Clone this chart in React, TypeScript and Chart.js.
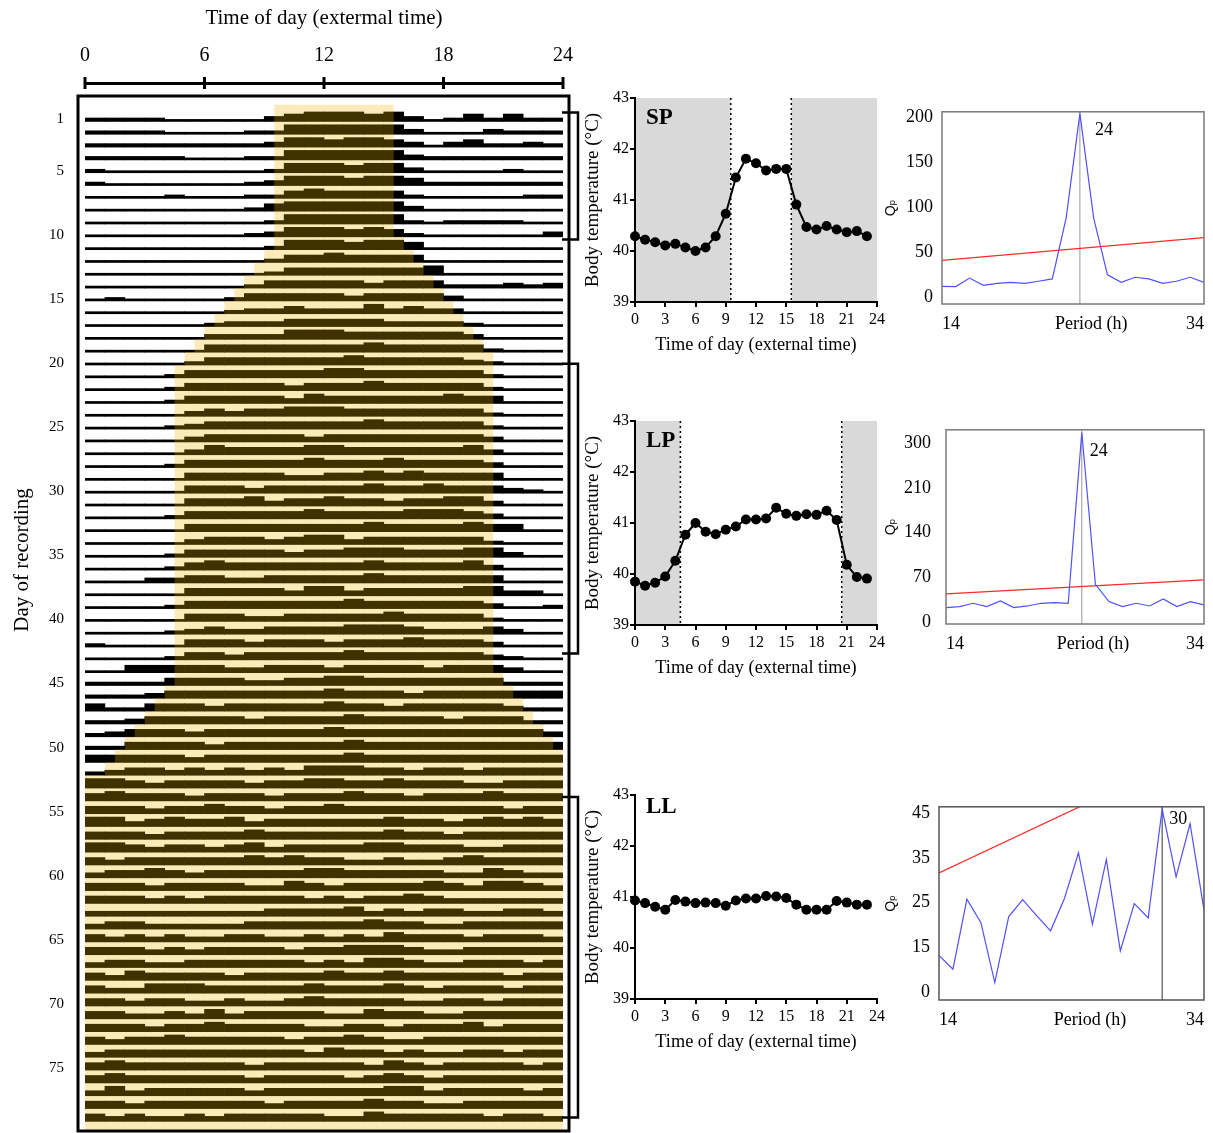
import React, { useEffect, useRef } from 'react';
import { Chart, registerables } from 'chart.js';

Chart.register(...registerables);
Chart.defaults.color = '#000';

const SERIF = "'Liberation Serif', 'Times New Roman', Times, serif";
const SANS = "'Liberation Sans', 'DejaVu Sans', Arial, sans-serif";

// ================= Actogram data =================
const hourTicks = [0, 6, 12, 18, 24];
const dayTicks = [1, 5, 10, 15, 20, 25, 30, 35, 40, 45, 50, 55, 60, 65, 70, 75];

// activity level per hourly bin (0 = lowest ... 4 = highest), one string per day of recording
const activityRows = [
  '111100000234443420131311',
  '111100001144444420002111',
  '111111111244344320231121',
  '111110001144444421111111',
  '100000000144434420000100',
  '100000001244434431111111',
  '000010001134333310000011',
  '000000001344444420000000',
  '000000000144444410111100',
  '000000001244434310000002',
  '000000000144434430000000',
  '000000000133433330000000',
  '000000000133333334000000',
  '000000001333332333111212',
  '010000013333323333200000',
  '000000012232224232200000',
  '000000122233333222210000',
  '000000222244433333320000',
  '000000333333334333331000',
  '000001333333343333321000',
  '000013333333443333331000',
  '000013333323334333331000',
  '000013333324333333433000',
  '000002323344433333331000',
  '000012333333334333331000',
  '000002333332333333332000',
  '000002433334433333342000',
  '000013333334333433332000',
  '000003333322334343333000',
  '000003332333334334333210',
  '000003334233433233442000',
  '000013333334333344432000',
  '000003333333334333343300',
  '000002333234423333331000',
  '000013333323344433344200',
  '000013433333334333342000',
  '000223322333334333333000',
  '000003333324423333344220',
  '000013333333343333332001',
  '000003332233333433331000',
  '000012322333344432223200',
  '100003332333233343332000',
  '000013323333343333332100',
  '003333322333233332333200',
  '111133332233443333333111',
  '111233333333433323333333',
  '311333233333433233333211',
  '112333332333343333233311',
  '123332333333433333333332',
  '113333233333343333333333',
  '333332333333343333333333',
  '123323232324443323323333',
  '443233332334433433322333',
  '343332333233343323334333',
  '333233433233433333333233',
  '442343342333333433234343',
  '333233334333333433233333',
  '443233234233334433322333',
  '323333334343322322343333',
  '233432333334433333224322',
  '333233332243233334324432',
  '333232333332323343222222',
  '222222222333342323322332',
  '233222223333334332233333',
  '323232233223232433323332',
  '333232333323344432233333',
  '233223333332324432233323',
  '324333323333433433333233',
  '322444333334333432333233',
  '332332232234333322332333',
  '332232423333224332233333',
  '333233433332233233342333',
  '323343333323343223333333',
  '233333333332433232233233',
  '343333332333332432333323',
  '343333332333323432333333',
  '242333332333333442333323',
  '332333333233334332233333',
  '323223233333224333332332',
];

// lights-on / lights-off time (h) for each day of recording
const lightOn = [
  9.5, 9.5, 9.5, 9.5, 9.5, 9.5, 9.5, 9.5, 9.5, 9.5,
  9.5, 9, 8.5, 8, 7.5, 7, 6.5, 6, 5.5, 5,
  4.5, 4.5, 4.5, 4.5, 4.5, 4.5, 4.5, 4.5, 4.5, 4.5,
  4.5, 4.5, 4.5, 4.5, 4.5, 4.5, 4.5, 4.5, 4.5, 4.5,
  4.5, 4.5, 4.5, 4.5, 4.5, 4, 3.5, 3, 2.5, 2,
  1.5, 1, 0, 0, 0, 0, 0, 0, 0, 0,
  0, 0, 0, 0, 0, 0, 0, 0, 0, 0,
  0, 0, 0, 0, 0, 0, 0, 0, 0,
];
const lightOff = [
  15.5, 15.5, 15.5, 15.5, 15.5, 15.5, 15.5, 15.5, 15.5, 15.5,
  16, 16.5, 17, 17.5, 18, 18.5, 19, 19.5, 20, 20.5,
  20.5, 20.5, 20.5, 20.5, 20.5, 20.5, 20.5, 20.5, 20.5, 20.5,
  20.5, 20.5, 20.5, 20.5, 20.5, 20.5, 20.5, 20.5, 20.5, 20.5,
  20.5, 20.5, 20.5, 20.5, 21, 21.5, 22, 22.5, 23, 23.5,
  24, 24, 24, 24, 24, 24, 24, 24, 24, 24,
  24, 24, 24, 24, 24, 24, 24, 24, 24, 24,
  24, 24, 24, 24, 24, 24, 24, 24, 24,
];
// day ranges marked by brackets (SP, LP, LL)
const bracketDays = [
  [0.3, 10.2],
  [19.9, 42.5],
  [53.7, 78.7],
];

// ================= Body temperature data =================
const hours = [0, 1, 2, 3, 4, 5, 6, 7, 8, 9, 10, 11, 12, 13, 14, 15, 16, 17, 18, 19, 20, 21, 22, 23];
const spTemp = [40.29, 40.22, 40.17, 40.11, 40.14, 40.07, 40.0, 40.07, 40.29, 40.73, 41.44, 41.81, 41.72, 41.58, 41.61, 41.61, 40.91, 40.47, 40.42, 40.49, 40.42, 40.37, 40.39, 40.29];
const lpTemp = [39.85, 39.77, 39.83, 39.95, 40.26, 40.77, 41.0, 40.83, 40.78, 40.87, 40.93, 41.07, 41.07, 41.09, 41.3, 41.18, 41.14, 41.17, 41.16, 41.24, 41.06, 40.18, 39.94, 39.91];
const llTemp = [40.93, 40.88, 40.81, 40.75, 40.94, 40.91, 40.88, 40.89, 40.88, 40.83, 40.93, 40.97, 40.97, 41.02, 41.01, 40.98, 40.85, 40.75, 40.75, 40.75, 40.92, 40.89, 40.85, 40.85];
const spDark = [[0, 9.5], [15.5, 24]];
const lpDark = [[0, 4.5], [20.5, 24]];
const llDark: number[][] = [];

// ================= Periodogram data =================
const periods = [14, 15, 16, 17, 18, 19, 20, 21, 22, 23, 24, 25, 26, 27, 28, 29, 30, 31, 32, 33];
const spQp = [12.2, 12.0, 21.4, 13.3, 15.6, 16.7, 15.6, 17.9, 20.5, 87.7, 203.5, 87.7, 25.0, 16.7, 22.3, 20.5, 15.6, 17.9, 22.3, 16.7];
const lpQp = [22.9, 24.5, 29.7, 24.5, 33.4, 22.9, 25.5, 29.7, 30.8, 29.7, 296.7, 59.4, 32.3, 24.5, 29.7, 25.5, 36.5, 24.5, 32.3, 27.1];
const llQp = [13.2, 10.1, 25.8, 20.6, 7.1, 21.9, 25.7, 22.1, 18.7, 26.0, 36.2, 20.2, 34.7, 14.2, 24.8, 21.6, 46.0, 30.8, 42.7, 23.4];
const thresholdPeriods = [14, 33];
const spThreshold = [40.9, 66.3];
const lpThreshold = [44.3, 66.2];
const llThreshold = [31.7, 59.6];
const periodTickValues = [14, 33];
const periodTickLabels = ['14', '34'];
const spQpTicks = [0, 50, 100, 150, 200];
const spQpLabels = ['0', '50', '100', '150', '200'];
const lpQpTicks = [0, 70, 140, 210, 280];
const lpQpLabels = ['0', '70', '140', '210', '300'];
const llQpTicks = [5, 15, 25, 35, 45];
const llQpLabels = ['0', '15', '25', '35', '45'];

// ================= Helpers =================
function ChartCanvas({ left, top, width, height, make }: any) {
  const ref = useRef<HTMLCanvasElement | null>(null);
  useEffect(() => {
    const chart = new Chart(ref.current as HTMLCanvasElement, make());
    return () => chart.destroy();
  }, []);
  return (
    <canvas
      ref={ref}
      width={width}
      height={height}
      style={{ position: 'absolute', left, top, width, height }}
    />
  );
}

// ================= Actogram =================
function actogramConfig(): any {
  // bar height (in day-row units) for each activity level
  const LEVEL_H = [0.16, 0.27, 0.39, 0.58, 0.74];
  const bars: any[] = [];
  activityRows.forEach((row, i) => {
    const day = i + 1;
    for (let h = 0; h < 24; h++) {
      const lvl = Number(row[h] ?? '0');
      bars.push({ x: h + 0.5, y: [day, day - LEVEL_H[lvl]] });
    }
  });

  const actoPlugin = {
    id: 'acto',
    afterDatasetsDraw(chart: any) {
      const { ctx, scales } = chart;
      const x = scales.x;
      const y = scales.y;
      ctx.save();
      ctx.beginPath();
      for (let i = 0; i < lightOn.length; i++) {
        const d = i + 1;
        const t = y.getPixelForValue(d === 1 ? d - 1.3 : d - 1);
        const b = y.getPixelForValue(d === lightOn.length ? y.max : d);
        const l = x.getPixelForValue(lightOn[i]);
        const r = x.getPixelForValue(lightOff[i]);
        ctx.rect(l, t, r - l, b - t);
      }
      ctx.fillStyle = 'rgba(245,180,0,0.27)';
      ctx.fill();
      ctx.restore();
    },
    afterDraw(chart: any) {
      const { ctx, chartArea: ca, scales } = chart;
      const x = scales.x;
      const y = scales.y;
      ctx.save();
      // frame
      ctx.strokeStyle = '#000';
      ctx.lineWidth = 3;
      ctx.strokeRect(ca.left - 7, ca.top + 13, ca.right + 6 - (ca.left - 7), ca.bottom - (ca.top + 13));
      // top axis tick marks
      for (const v of hourTicks) {
        const px = x.getPixelForValue(v);
        ctx.beginPath();
        ctx.moveTo(px, ca.top - 6);
        ctx.lineTo(px, ca.top + 6);
        ctx.stroke();
      }
      // brackets
      ctx.lineWidth = 2.5;
      const xr = ca.right + 15;
      for (const [a, b] of bracketDays) {
        const ya = y.getPixelForValue(a);
        const yb = y.getPixelForValue(b);
        ctx.beginPath();
        ctx.moveTo(ca.right - 1, ya);
        ctx.lineTo(xr, ya);
        ctx.lineTo(xr, yb);
        ctx.lineTo(ca.right - 1, yb);
        ctx.stroke();
      }
      // y title
      ctx.translate(22, 560);
      ctx.rotate(-Math.PI / 2);
      ctx.fillStyle = '#000';
      ctx.font = `21px ${SERIF}`;
      ctx.textAlign = 'center';
      ctx.textBaseline = 'middle';
      ctx.fillText('Day of recording', 0, 0);
      ctx.restore();
    },
  };

  return {
    type: 'bar',
    data: {
      datasets: [
        {
          data: bars,
          backgroundColor: '#000',
          borderWidth: 0,
          barPercentage: 1,
          categoryPercentage: 1,
        },
      ],
    },
    options: {
      animation: false,
      responsive: false,
      events: [],
      layout: { autoPadding: false, padding: { left: 0, right: 37, top: 0, bottom: 2 } },
      plugins: { legend: { display: false }, tooltip: { enabled: false } },
      scales: {
        x: {
          type: 'linear',
          position: 'top',
          min: 0,
          max: 24,
          offset: false,
          afterBuildTicks: (s: any) => {
            s.ticks = hourTicks.map((v) => ({ value: v }));
          },
          afterFit: (s: any) => {
            s.height = 83;
          },
          grid: { display: false, drawTicks: false, offset: false },
          border: { display: true, color: '#000', width: 3 },
          ticks: { font: { family: SERIF, size: 20 }, color: '#000', padding: 15, maxRotation: 0, autoSkip: false },
          title: {
            display: true,
            text: 'Time of day (extermal time)',
            font: { family: SERIF, size: 21 },
            color: '#000',
            padding: { top: 6, bottom: 0 },
          },
        },
        y: {
          type: 'linear',
          reverse: true,
          min: -2,
          max: 79.75,
          afterBuildTicks: (s: any) => {
            s.ticks = dayTicks.map((v) => ({ value: v }));
          },
          afterFit: (s: any) => {
            s.width = 85;
          },
          grid: { display: false, drawTicks: false },
          border: { display: false },
          ticks: { font: { family: SERIF, size: 15 }, color: '#000', padding: 21, autoSkip: false, labelOffset: -2 },
        },
      },
    },
    plugins: [actoPlugin],
  };
}

// ================= Temperature charts =================
function tempConfig(temps: number[], dark: number[][], label: string, labelDy: number): any {
  const plugin = {
    id: 'tempDeco',
    beforeDraw(chart: any) {
      const { ctx, chartArea: ca, scales } = chart;
      const x = scales.x;
      ctx.save();
      ctx.fillStyle = '#d9d9d9';
      for (const [a, b] of dark) {
        const l = x.getPixelForValue(a);
        const r = x.getPixelForValue(b);
        ctx.fillRect(l, ca.top, r - l, ca.bottom - ca.top);
      }
      ctx.strokeStyle = '#000';
      ctx.lineWidth = 1.5;
      ctx.setLineDash([2, 3]);
      for (const [a, b] of dark) {
        for (const v of [a, b]) {
          if (v <= 0 || v >= 24) continue;
          const px = x.getPixelForValue(v);
          ctx.beginPath();
          ctx.moveTo(px, ca.top);
          ctx.lineTo(px, ca.bottom);
          ctx.stroke();
        }
      }
      ctx.restore();
    },
    afterDraw(chart: any) {
      const { ctx, chartArea: ca } = chart;
      ctx.save();
      ctx.fillStyle = '#000';
      ctx.font = `bold 23px ${SERIF}`;
      ctx.textAlign = 'left';
      ctx.textBaseline = 'middle';
      ctx.fillText(label, ca.left + 11, ca.top + labelDy);
      ctx.restore();
    },
  };
  const axisCommon = {
    grid: { display: true, drawOnChartArea: false, drawTicks: true, tickLength: 5, color: '#000', lineWidth: 2 },
    border: { display: true, color: '#000', width: 2 },
  };
  return {
    type: 'line',
    data: {
      datasets: [
        {
          data: hours.map((h, i) => ({ x: h, y: temps[i] })),
          borderColor: '#000',
          borderWidth: 2,
          pointRadius: 5,
          pointBackgroundColor: '#000',
          pointBorderWidth: 0,
          tension: 0,
          clip: false,
        },
      ],
    },
    options: {
      animation: false,
      responsive: false,
      events: [],
      layout: { autoPadding: false, padding: { left: 0, right: 13, top: 13, bottom: 0 } },
      plugins: { legend: { display: false }, tooltip: { enabled: false } },
      scales: {
        x: {
          type: 'linear',
          min: 0,
          max: 24,
          ...axisCommon,
          afterFit: (s: any) => {
            s.height = 63;
          },
          ticks: { stepSize: 3, font: { family: SERIF, size: 16 }, color: '#000', padding: 3, maxRotation: 0, autoSkip: false },
          title: {
            display: true,
            text: 'Time of day (external time)',
            font: { family: SERIF, size: 18.3 },
            color: '#000',
            padding: { top: 0, bottom: 9 },
          },
        },
        y: {
          type: 'linear',
          min: 39,
          max: 43,
          ...axisCommon,
          afterFit: (s: any) => {
            s.width = 55;
          },
          ticks: { stepSize: 1, font: { family: SERIF, size: 16 }, color: '#000', padding: 1 },
          title: {
            display: true,
            text: 'Body temperature (°C)',
            font: { family: SERIF, size: 19 },
            color: '#000',
            padding: { top: 1.5, bottom: 0 },
          },
        },
      },
    },
    plugins: [plugin],
  };
}

// ================= Periodograms =================
function periodConfig(p: any): any {
  const plugin = {
    id: 'periodDeco',
    afterDraw(chart: any) {
      const { ctx, chartArea: ca, scales } = chart;
      const x = scales.x;
      ctx.save();
      ctx.strokeStyle = p.boxColor;
      ctx.lineWidth = 1.5;
      ctx.strokeRect(ca.left, ca.top, ca.right - ca.left, ca.bottom - ca.top);
      ctx.fillStyle = '#000';
      ctx.font = `18px ${SERIF}`;
      ctx.textBaseline = 'middle';
      ctx.textAlign = 'center';
      ctx.fillText('Period (h)', ca.left + (ca.right - ca.left) * 0.57, ca.bottom + 20);
      ctx.textAlign = 'left';
      ctx.fillText(String(p.peak), x.getPixelForValue(p.peak) + p.peakDx, ca.top + p.peakDy);
      ctx.restore();
    },
  };
  return {
    type: 'line',
    data: {
      datasets: [
        {
          data: periods.map((v, i) => ({ x: v, y: p.qp[i] })),
          borderColor: 'rgb(80,80,255)',
          borderWidth: 1.2,
          pointRadius: 0,
          tension: 0,
        },
        {
          data: thresholdPeriods.map((v, i) => ({ x: v, y: p.threshold[i] })),
          borderColor: 'rgb(255,40,40)',
          borderWidth: 1.2,
          pointRadius: 0,
        },
        {
          data: [
            { x: p.peak, y: p.min },
            { x: p.peak, y: p.max },
          ],
          borderColor: p.peakColor,
          borderWidth: 1,
          pointRadius: 0,
        },
      ],
    },
    options: {
      animation: false,
      responsive: false,
      events: [],
      layout: { autoPadding: false, padding: { left: 0, right: p.padRight, top: 0, bottom: 0 } },
      plugins: { legend: { display: false }, tooltip: { enabled: false } },
      scales: {
        x: {
          type: 'linear',
          min: 14,
          max: 33,
          afterBuildTicks: (s: any) => {
            s.ticks = periodTickValues.map((v) => ({ value: v }));
          },
          afterFit: (s: any) => {
            s.height = p.xHeight;
          },
          grid: { display: false, drawTicks: false },
          border: { display: false },
          ticks: {
            callback: (_v: any, i: number) => periodTickLabels[i],
            align: 'inner',
            font: { family: SERIF, size: 18 },
            color: '#000',
            padding: 9,
            maxRotation: 0,
            autoSkip: false,
          },
        },
        y: {
          type: 'linear',
          min: p.min,
          max: p.max,
          afterBuildTicks: (s: any) => {
            s.ticks = p.ticks.map((v: number) => ({ value: v }));
          },
          afterFit: (s: any) => {
            s.width = p.yWidth;
          },
          grid: { display: false, drawTicks: false },
          border: { display: false },
          ticks: {
            callback: (_v: any, i: number) => p.labels[i],
            font: { family: SERIF, size: 18 },
            color: '#000',
            padding: p.tickPad,
            autoSkip: false,
          },
          title: {
            display: true,
            text: 'Qₚ',
            font: { family: SANS, size: 14 },
            color: '#000',
            padding: { top: 3, bottom: 0 },
          },
        },
      },
    },
    plugins: [plugin],
  };
}

// the y tick labels reserve (lineHeight/2 + padding) above the plot area;
// canvases are offset by that amount so each plot box lands where it should
const LABEL_HALF = 18 * 1.2 / 2;

export default function App() {
  const p1Top = 112 - (LABEL_HALF + 9);
  const p2Top = 430 - (LABEL_HALF + 15);
  const p3Top = 807 - (LABEL_HALF + 9);
  return (
    <div style={{ position: 'absolute', left: 0, top: 0, width: 1213, height: 1133, background: '#fff', overflow: 'hidden' }}>
      <ChartCanvas left={0} top={0} width={600} height={1161} make={actogramConfig} />

      <ChartCanvas left={580} top={85} width={310} height={280} make={() => tempConfig(spTemp, spDark, 'SP', 20)} />
      <ChartCanvas left={580} top={408} width={310} height={280} make={() => tempConfig(lpTemp, lpDark, 'LP', 20)} />
      <ChartCanvas left={580} top={782} width={310} height={280} make={() => tempConfig(llTemp, llDark, 'LL', 12)} />

      <ChartCanvas
        left={880}
        top={p1Top}
        width={333}
        height={Math.round(304 + 41 - p1Top)}
        make={() =>
          periodConfig({
            qp: spQp, threshold: spThreshold, peak: 24, peakColor: '#999', boxColor: '#7a7a7a',
            min: -7.3, max: 205.5, ticks: spQpTicks, labels: spQpLabels,
            padRight: 9, xHeight: 41, yWidth: 62, tickPad: 9, peakDx: 15, peakDy: 18,
          })
        }
      />
      <ChartCanvas
        left={880}
        top={p2Top}
        width={333}
        height={Math.round(624 + 41 - p2Top)}
        make={() =>
          periodConfig({
            qp: lpQp, threshold: lpThreshold, peak: 24, peakColor: '#999', boxColor: '#7a7a7a',
            min: -2.7, max: 301, ticks: lpQpTicks, labels: lpQpLabels,
            padRight: 3, xHeight: 41, yWidth: 66, tickPad: 15, peakDx: 8, peakDy: 21,
          })
        }
      />
      <ChartCanvas
        left={880}
        top={p3Top}
        width={333}
        height={Math.round(1000 + 40 - p3Top)}
        make={() =>
          periodConfig({
            qp: llQp, threshold: llThreshold, peak: 30, peakColor: '#333', boxColor: '#555',
            min: 3.2, max: 46.5, ticks: llQpTicks, labels: llQpLabels,
            padRight: 5, xHeight: 40, yWidth: 59, tickPad: 9, peakDx: 7, peakDy: 12,
          })
        }
      />
    </div>
  );
}
